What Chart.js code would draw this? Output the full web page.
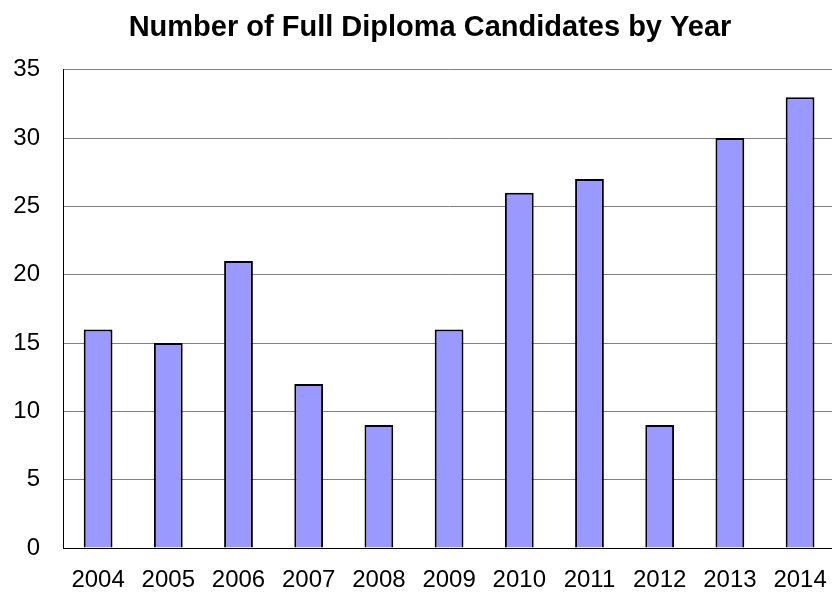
<!DOCTYPE html>
<html>
<head>
<meta charset="utf-8">
<script src="https://cdn.jsdelivr.net/npm/chart.js@4"></script>
<style>
  html, body { margin: 0; padding: 0; overflow: hidden; background: #fff; }
  #wrap { position: absolute; left: 0; top: 0; }
</style>
</head>
<body>
<div id="wrap"><canvas id="diplomaChart" width="845" height="593"></canvas></div>
<script>
const years = ['2004', '2005', '2006', '2007', '2008', '2009', '2010', '2011', '2012', '2013', '2014'];
const candidates = [16, 15, 21, 12, 9, 16, 26, 27, 9, 30, 33];

const ctx = document.getElementById('diplomaChart').getContext('2d');
const fontFamily = 'Liberation Sans, Arial, sans-serif';

// the original title sits a little right of the canvas centre
const shiftTitle = {
    id: 'shiftTitle',
    afterLayout(chart) {
        if (chart.titleBlock) chart.titleBlock.left += 20;
    }
};

new Chart(ctx, {
    type: 'bar',
    data: {
        labels: years,
        datasets: [{
            data: candidates,
            backgroundColor: '#9999ff',
            borderColor: '#000000',
            borderWidth: 2,
            categoryPercentage: 1,
            barPercentage: 0.41
        }]
    },
    options: {
        responsive: false,
        animation: false,
        layout: { padding: { left: 0, right: 5, top: 0, bottom: 0 } },
        plugins: {
            legend: { display: false },
            tooltip: { enabled: false },
            title: {
                display: true,
                text: 'Number of Full Diploma Candidates by Year',
                color: '#000',
                font: { family: fontFamily, size: 29, weight: 'bold', lineHeight: 1.2 },
                padding: { top: 11, bottom: 24 }
            }
        },
        scales: {
            x: {
                grid: { display: false, drawTicks: false },
                border: { color: '#000', width: 1 },
                ticks: {
                    color: '#000',
                    font: { family: fontFamily, size: 24 },
                    padding: 18,
                    maxRotation: 0,
                    autoSkip: false
                },
                afterFit: function (scale) { scale.height = 45; }
            },
            y: {
                min: 0,
                max: 35,
                ticks: {
                    stepSize: 5,
                    color: '#000',
                    font: { family: fontFamily, size: 24 },
                    padding: 23
                },
                grid: { color: '#808080', lineWidth: 1, drawTicks: false },
                border: { color: '#000', width: 1 },
                afterFit: function (scale) { scale.width = 63; }
            }
        }
    },
    plugins: [shiftTitle]
});
</script>
</body>
</html>
